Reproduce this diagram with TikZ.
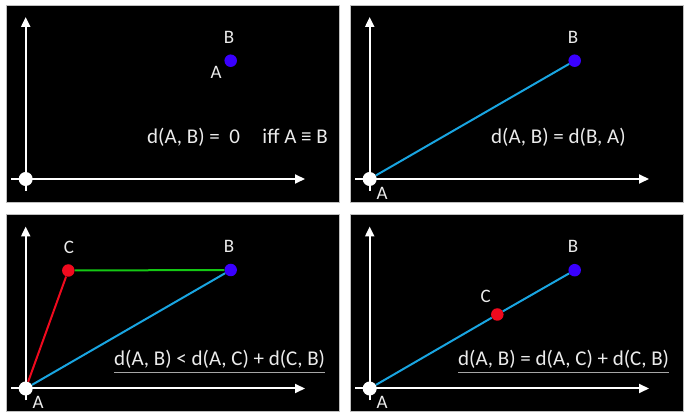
\documentclass[tikz,border=0pt]{standalone}
\usepackage{fontspec}
\setmainfont{Carlito}
\usetikzlibrary{arrows.meta}
\definecolor{ptblue}{RGB}{58,0,255}
\definecolor{ptred}{RGB}{240,10,30}
\definecolor{lngreen}{RGB}{20,200,20}
\definecolor{lncyan}{RGB}{25,165,225}
\definecolor{txt}{RGB}{235,235,235}
\tikzset{
 panel/.style={fill=black, draw=gray!50, line width=0.8pt, minimum width=333pt, minimum height=197pt, anchor=north west, inner sep=0},
 axis/.style={draw=white, line width=2pt, -{Triangle[length=10pt,width=9pt]}},
 origin/.style={circle, fill=white, minimum size=14pt, inner sep=0},
 ptB/.style={circle, fill=ptblue, minimum size=12.5pt, inner sep=0},
 ptC/.style={circle, fill=ptred, minimum size=12.5pt, inner sep=0},
 lbl/.style={text=txt, font=\fontsize{19}{21}\selectfont, inner sep=0},
 eq/.style={text=txt, font=\fontsize{21}{24}\selectfont, inner sep=0, anchor=base west},
 seg/.style={line width=2pt},
 uline/.style={draw=gray!70, line width=1.5pt}
}
\begin{document}
\begin{tikzpicture}[x=1pt,y=-1pt]
\path[use as bounding box, fill=white] (0,0) rectangle (689,419);
% ---------- panel 1
\node[panel] (P1) at (6,5) {};
\coordinate (X1s) at (11,179); \coordinate (X1e) at (305,179);
\coordinate (Y1s) at (25.7,191); \coordinate (Y1e) at (25.7,17);
\draw[axis] (X1s) -- (X1e);
\draw[axis] (Y1s) -- (Y1e);
\node[origin] (O1) at (25.7,179) {};
\node[ptB] (B1) at (230.7,60.7) {};
\node[lbl] (lB1) at (229,37) {B};
\node[lbl] (lA1) at (216,72) {A};
\node[eq] (e1) at (147,144) {d(A, B) =\hspace{0.45em}0};
\node[eq, anchor=base east] (f1) at (328,144) {iff A ≡ B};
% ---------- panel 2
\begin{scope}[shift={(344,0)}]
\node[panel] (P2) at (6,5) {};
\coordinate (X2s) at (11,179); \coordinate (X2e) at (305,179);
\coordinate (Y2s) at (25.7,191); \coordinate (Y2e) at (25.7,17);
\draw[axis] (X2s) -- (X2e);
\draw[axis] (Y2s) -- (Y2e);
\node[origin] (O2) at (25.7,179) {};
\node[ptB] (B2) at (230.7,60.7) {};
\draw[seg, lncyan] (O2) -- (B2);
\node[lbl] (lB2) at (229,37) {B};
\node[lbl] (lA2) at (38,193) {A};
\node[eq] (e2) at (147,144) {d(A, B) = d(B, A)};
\end{scope}
% ---------- panel 3
\begin{scope}[shift={(0,209.5)}]
\node[panel] (P3) at (6,5) {};
\coordinate (X3s) at (11,179); \coordinate (X3e) at (305,179);
\coordinate (Y3s) at (25.7,191); \coordinate (Y3e) at (25.7,17);
\draw[axis] (X3s) -- (X3e);
\draw[axis] (Y3s) -- (Y3e);
\node[origin] (O3) at (25.7,179) {};
\node[ptB] (B3) at (230.7,60.5) {};
\node[ptC] (C3) at (68.3,61) {};
\draw[seg, ptred] (O3) -- (C3);
\draw[seg, lngreen] (C3) -- (B3);
\draw[seg, lncyan] (O3) -- (B3);
\node[lbl] (lB3) at (229,37) {B};
\node[lbl] (lC3) at (69,38) {C};
\node[lbl] (lA3) at (38,193) {A};
\node[eq] (e3) at (114,156.5) {d(A, B) < d(A, C) + d(C, B)};
\draw[uline] ([yshift=-6.6pt]e3.base west) -- ([yshift=-6.6pt]e3.base east);
\end{scope}
% ---------- panel 4
\begin{scope}[shift={(344,209.5)}]
\node[panel] (P4) at (6,5) {};
\coordinate (X4s) at (11,179); \coordinate (X4e) at (305,179);
\coordinate (Y4s) at (25.7,191); \coordinate (Y4e) at (25.7,17);
\draw[axis] (X4s) -- (X4e);
\draw[axis] (Y4s) -- (Y4e);
\node[origin] (O4) at (25.7,179) {};
\node[ptB] (B4) at (230.7,60.7) {};
\node[ptC] (C4) at (153.3,105) {};
\draw[seg, lncyan] (O4) -- (C4);
\draw[seg, lncyan] (C4) -- (B4);
\node[lbl] (lB4) at (229,37) {B};
\node[lbl] (lC4) at (141.7,87.3) {C};
\node[lbl] (lA4) at (38,193) {A};
\node[eq] (e4) at (114,156.5) {d(A, B) = d(A, C) + d(C, B)};
\draw[uline] ([yshift=-6.6pt]e4.base west) -- ([yshift=-6.6pt]e4.base east);
\end{scope}
\end{tikzpicture}
\end{document}
